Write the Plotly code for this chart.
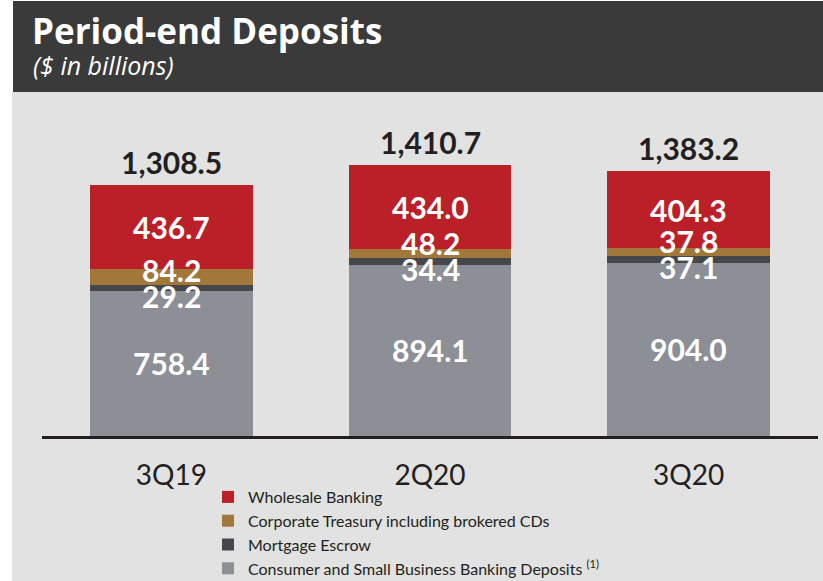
import plotly.graph_objects as go

categories = ["3Q19", "2Q20", "3Q20"]
consumer = [758.4, 894.1, 904.0]
mortgage = [29.2, 34.4, 37.1]
corporate = [84.2, 48.2, 37.8]
wholesale = [436.7, 434.0, 404.3]
totals = [1308.5, 1410.7, 1383.2]

series_names = [
    "Consumer and Small Business Banking Deposits <sup>(1)</sup>",
    "Mortgage Escrow",
    "Corporate Treasury including brokered CDs",
    "Wholesale Banking",
]
colors = ["#8D8F96", "#45474B", "#A2773A", "#BB1F28"]

W, H = 823, 581
L, R, T, B = 42, 5, 100, 145
PW, PH = W - L - R, H - T - B
YMAX = 1752


def px_x(p):  # pixel -> paper
    return (p - L) / PW


def px_y(q):
    return (H - B - q) / PH


def cy(q):  # pixel -> container fraction
    return 1 - q / H


FONT = "Lato"
TFONT = "Open Sans"
fig = go.Figure()
for vals, name, col in zip([consumer, mortgage, corporate, wholesale], series_names, colors):
    fig.add_trace(go.Bar(x=categories, y=vals, name=name, marker=dict(color=col, line=dict(width=0)),
                         hoverinfo="skip"))

ann = []
for i, c in enumerate(categories):
    ann.append(dict(x=c, y=totals[i], text=f"<b>{totals[i]:,.1f}</b>", showarrow=False,
                    yanchor="bottom", yshift=3, font=dict(size=30, color="#231F20", family=FONT)))
    ann.append(dict(x=c, y=consumer[i] + mortgage[i] + corporate[i] + wholesale[i] / 2,
                    text=f"<b>{wholesale[i]:.1f}</b>", showarrow=False, yanchor="middle",
                    font=dict(size=30, color="white", family=FONT)))
    boundary = consumer[i] + mortgage[i]
    ann.append(dict(x=c, y=boundary, text=f"<b>{corporate[i]:.1f}</b>", showarrow=False,
                    yanchor="middle", yshift=15, font=dict(size=30, color="white", family=FONT)))
    ann.append(dict(x=c, y=boundary, text=f"<b>{mortgage[i]:.1f}</b>", showarrow=False,
                    yanchor="middle", yshift=-11, font=dict(size=30, color="white", family=FONT)))
    ann.append(dict(x=c, y=consumer[i] / 2, text=f"<b>{consumer[i]:.1f}</b>", showarrow=False,
                    yanchor="middle", font=dict(size=30, color="white", family=FONT)))

ann.append(dict(xref="paper", yref="paper", x=px_x(30), y=px_y(30), xanchor="left", yanchor="middle",
                text="<b>Period-end Deposits</b>", showarrow=False,
                font=dict(size=35, color="white", family=TFONT)))
ann.append(dict(xref="paper", yref="paper", x=px_x(31), y=px_y(65), xanchor="left", yanchor="middle",
                text="<i>($ in billions)</i>", showarrow=False,
                font=dict(size=25, color="white", family=TFONT)))

shapes = [
    dict(type="rect", xref="paper", yref="paper", x0=px_x(12), x1=px_x(830), y0=px_y(590), y1=px_y(92),
         fillcolor="#E1E2E1", line=dict(width=0), layer="below"),
    dict(type="rect", xref="paper", yref="paper", x0=px_x(13), x1=px_x(830), y0=px_y(92), y1=px_y(1),
         fillcolor="#3A3A3A", line=dict(width=0), layer="below"),
]

fig.update_layout(
    width=W, height=H,
    margin=dict(l=L, r=R, t=T, b=B, pad=0, autoexpand=False),
    barmode="stack", bargap=0.37,
    paper_bgcolor="white", plot_bgcolor="rgba(0,0,0,0)",
    showlegend=True,
    legend=dict(x=px_x(208), y=cy(480), xanchor="left", yanchor="top", yref="container",
                traceorder="reversed",
                font=dict(size=16, color="#231F20", family=FONT), bgcolor="rgba(0,0,0,0)",
                itemclick=False, itemdoubleclick=False),
    annotations=ann, shapes=shapes,
    xaxis=dict(showgrid=False, showline=True, linecolor="#231F20", linewidth=3, ticks="",
               tickfont=dict(size=28, color="#231F20", family=FONT), ticklabelstandoff=12,
               fixedrange=True),
    yaxis=dict(range=[0, YMAX], visible=False, showgrid=False, zeroline=False, fixedrange=True),
)

fig.write_html("out.html", config={"displayModeBar": False},
               post_script="document.body.style.margin='0';")
